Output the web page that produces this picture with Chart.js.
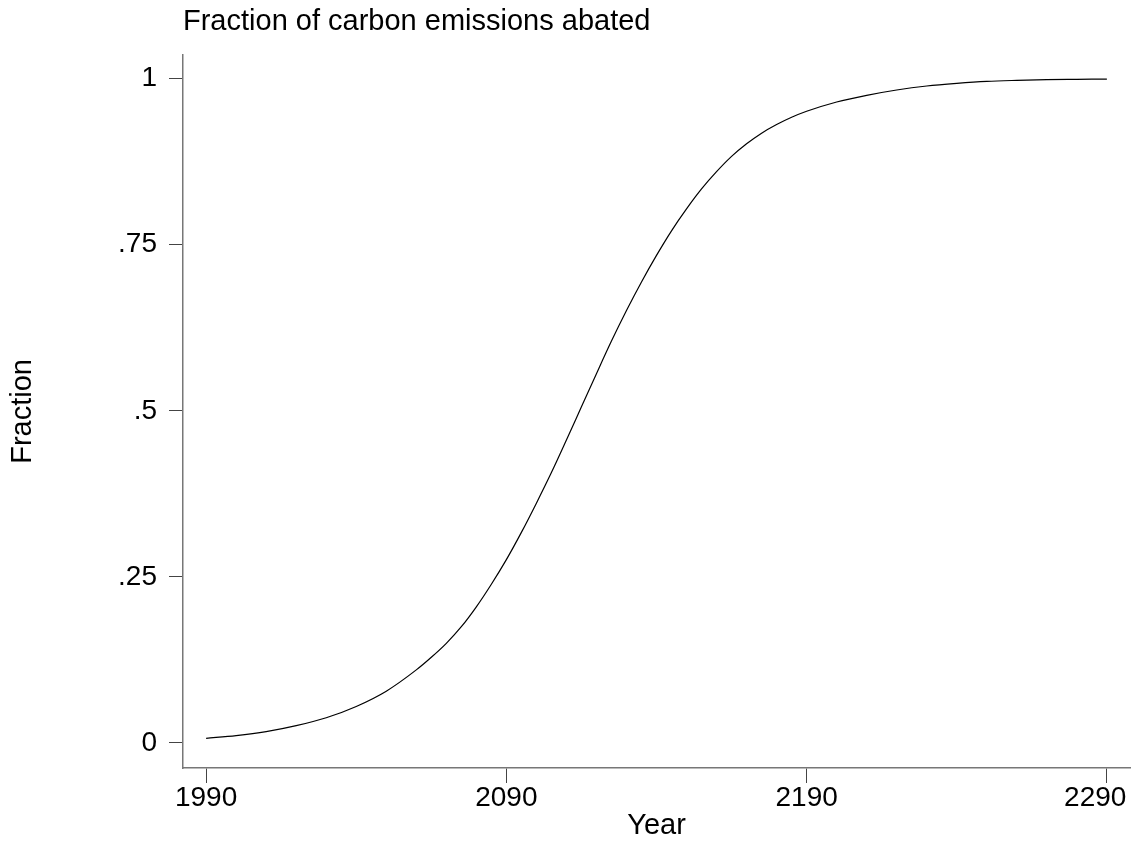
<!DOCTYPE html>
<html lang="en">
<head>
    <meta charset="UTF-8">
    <title>Fraction of carbon emissions abated</title>
    <script src="https://cdn.jsdelivr.net/npm/chart.js"></script>
    <style>
        body { margin: 0; background: #ffffff; }
        #chart { display: block; }
    </style>
</head>
<body>
    <canvas id="chart" width="1136" height="845"></canvas>
    <script>
        // values
        const years = [1990, 2000, 2010, 2020, 2030, 2040, 2050, 2060, 2065, 2070, 2075, 2080, 2085,
                       2090, 2095, 2100, 2105, 2110, 2115, 2120, 2125, 2130, 2135, 2140, 2145,
                       2150, 2155, 2160, 2165, 2170, 2175, 2180, 2185, 2190,
                       2200, 2210, 2220, 2230, 2240, 2250, 2260, 2270, 2280, 2290];
        const fraction = [0.007, 0.011, 0.017, 0.026, 0.038, 0.055, 0.078, 0.110, 0.129, 0.150, 0.175, 0.205, 0.239,
                          0.276, 0.317, 0.361, 0.407, 0.456, 0.506, 0.556, 0.605, 0.651, 0.694, 0.734, 0.771,
                          0.804, 0.834, 0.860, 0.883, 0.902, 0.918, 0.931, 0.942, 0.951,
                          0.965, 0.975, 0.983, 0.989, 0.993, 0.996, 0.9975, 0.9985, 0.999, 0.9995];

        const xTickValues = [1990, 2090, 2190, 2290];
        const xTickLabels = ['1990', '2090', '2190', '2290   '];
        const yTickValues = [0, 0.25, 0.5, 0.75, 1];
        const yTickLabels = ['0', '.25', '.5', '.75', '1'];

        const family = "'Liberation Sans', Arial, sans-serif";
        const tickFont = { family: family, size: 28 };
        const titleFont = { family: family, size: 29, weight: 'normal' };

        new Chart(document.getElementById('chart').getContext('2d'), {
            type: 'line',
            data: {
                datasets: [{
                    data: years.map((y, i) => ({ x: y, y: fraction[i] })),
                    borderColor: '#000000',
                    borderWidth: 1.2,
                    pointRadius: 0,
                    cubicInterpolationMode: 'monotone',
                    fill: false
                }]
            },
            options: {
                responsive: false,
                animation: false,
                devicePixelRatio: 1,
                layout: { padding: { left: 0, right: 6, top: 0, bottom: 0 } },
                plugins: {
                    legend: { display: false },
                    tooltip: { enabled: false },
                    title: {
                        display: true,
                        text: 'Fraction of carbon emissions abated',
                        align: 'start',
                        fullSize: false,
                        color: '#000000',
                        font: titleFont,
                        padding: { top: 5, bottom: 15 }
                    }
                },
                scales: {
                    x: {
                        type: 'linear',
                        min: 1982.3,
                        max: 2297.7,
                        afterBuildTicks: s => { s.ticks = xTickValues.map(v => ({ value: v })); },
                        afterFit: s => { s.height = 77; s.paddingLeft = 0; s.paddingRight = 0; },
                        ticks: {
                            color: '#000000',
                            font: tickFont,
                            padding: -2,
                            maxRotation: 0,
                            callback: v => xTickLabels[xTickValues.indexOf(v)]
                        },
                        grid: { drawOnChartArea: false, drawTicks: true, tickLength: 15, color: '#444444', lineWidth: 1 },
                        border: { display: true, color: '#777777', width: 1.5 },
                        title: { display: true, text: 'Year', color: '#000000', font: titleFont, padding: { top: 0, bottom: 1.5 } }
                    },
                    y: {
                        min: -0.0377,
                        max: 1.036,
                        afterBuildTicks: s => { s.ticks = yTickValues.map(v => ({ value: v })); },
                        afterFit: s => { s.width = 183; s.paddingTop = 0; s.paddingBottom = 0; },
                        ticks: {
                            color: '#000000',
                            font: tickFont,
                            padding: 12,
                            callback: v => yTickLabels[yTickValues.indexOf(v)]
                        },
                        grid: { drawOnChartArea: false, drawTicks: true, tickLength: 14, color: '#444444', lineWidth: 1 },
                        border: { display: true, color: '#777777', width: 1.5 },
                        title: { display: true, text: 'Fraction', color: '#000000', font: titleFont, padding: { top: 6, bottom: 0 } }
                    }
                }
            }
        });
    </script>
</body>
</html>
